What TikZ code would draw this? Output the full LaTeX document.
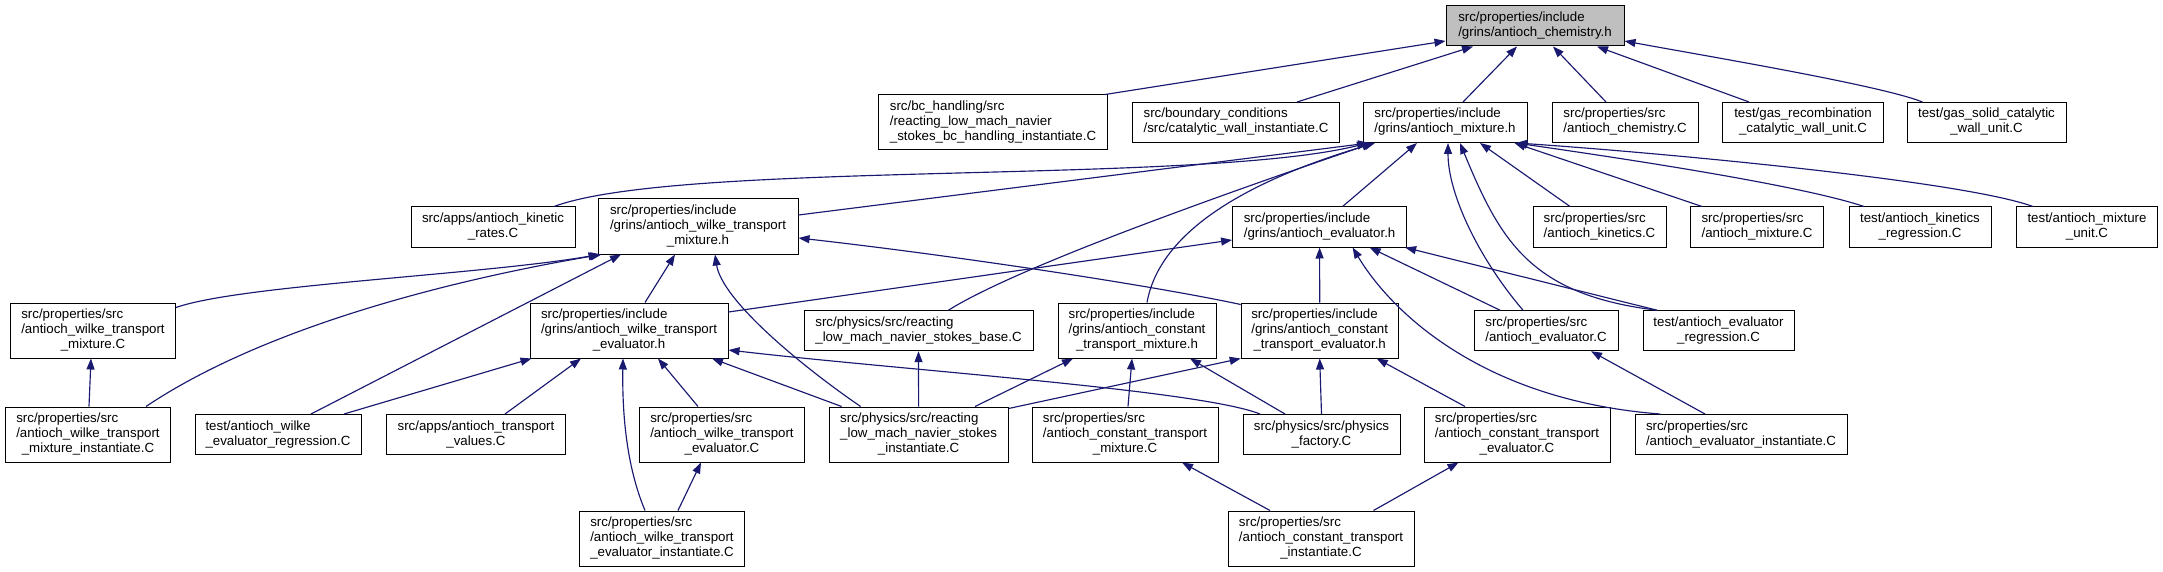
\documentclass[tikz,border=0pt]{standalone}
\usepackage{fontspec}
\setmainfont{Liberation Sans}
\usetikzlibrary{arrows.meta}
\definecolor{midnight}{RGB}{25,25,112}
\definecolor{rootgray}{RGB}{191,191,191}
\newcommand{\lbl}[2]{\begin{tabular}{@{}l@{}}#1\\\multicolumn{1}{@{}c@{}}{#2}\end{tabular}}
\tikzset{
  filebox/.style={draw=black, fill=white, line width=1pt, inner xsep=3pt, inner ysep=5pt,
    font=\fontsize{13.3}{15}\selectfont, anchor=center},
  rootbox/.style={filebox, fill=rootgray},
  dep/.style={draw=midnight, line width=1.15pt, -{Triangle[length=11pt,width=8pt]}},
}
\begin{document}
\begin{tikzpicture}[x=1pt,y=-1pt]
\useasboundingbox (0,0) rectangle (2163,572);
% level 1
\node[rootbox, minimum width=178pt] (root) at (1535,26) {\lbl{src/properties/include}{/grins/antioch\_chemistry.h}};
% level 2
\node[filebox, minimum width=229pt] (bch) at (993,122.5) {\lbl{src/bc\_handling/src\\/reacting\_low\_mach\_navier}{\_stokes\_bc\_handling\_instantiate.C}};
\node[filebox, minimum width=207pt] (bcc) at (1236,122.5) {\lbl{src/boundary\_conditions}{/src/catalytic\_wall\_instantiate.C}};
\node[filebox, minimum width=164pt] (mix) at (1445,122.5) {\lbl{src/properties/include}{/grins/antioch\_mixture.h}};
\node[filebox, minimum width=146pt] (chemC) at (1625,122.5) {\lbl{src/properties/src}{/antioch\_chemistry.C}};
\node[filebox, minimum width=161pt] (gasrec) at (1803,122.5) {\lbl{test/gas\_recombination}{\_catalytic\_wall\_unit.C}};
\node[filebox, minimum width=159pt] (gassol) at (1986.5,122.5) {\lbl{test/gas\_solid\_catalytic}{\_wall\_unit.C}};
% level 3
\node[filebox, minimum width=164pt] (kinrates) at (493,227) {\lbl{src/apps/antioch\_kinetic}{\_rates.C}};
\node[filebox, minimum width=200pt] (wmixh) at (698,226.5) {\lbl{src/properties/include\\/grins/antioch\_wilke\_transport}{\_mixture.h}};
\node[filebox, minimum width=174pt] (evalh) at (1319.6,227) {\lbl{src/properties/include}{/grins/antioch\_evaluator.h}};
\node[filebox, minimum width=133pt] (kinC) at (1599.5,227) {\lbl{src/properties/src}{/antioch\_kinetics.C}};
\node[filebox, minimum width=133pt] (mixC) at (1757,227) {\lbl{src/properties/src}{/antioch\_mixture.C}};
\node[filebox, minimum width=142pt] (kinreg) at (1920,227) {\lbl{test/antioch\_kinetics}{\_regression.C}};
\node[filebox, minimum width=141pt] (mixunit) at (2087,227) {\lbl{test/antioch\_mixture}{\_unit.C}};
% level 4
\node[filebox, minimum width=165pt] (wmixC) at (93,330.5) {\lbl{src/properties/src\\/antioch\_wilke\_transport}{\_mixture.C}};
\node[filebox, minimum width=198pt] (wevalh) at (629,330.5) {\lbl{src/properties/include\\/grins/antioch\_wilke\_transport}{\_evaluator.h}};
\node[filebox, minimum width=229pt] (base) at (918.5,330.7) {\lbl{src/physics/src/reacting}{\_low\_mach\_navier\_stokes\_base.C}};
\node[filebox, minimum width=158pt] (cmixh) at (1137,330.5) {\lbl{src/properties/include\\/grins/antioch\_constant}{\_transport\_mixture.h}};
\node[filebox, minimum width=157pt] (cevalh) at (1319.7,330.5) {\lbl{src/properties/include\\/grins/antioch\_constant}{\_transport\_evaluator.h}};
\node[filebox, minimum width=144pt] (evalC) at (1546,330.7) {\lbl{src/properties/src}{/antioch\_evaluator.C}};
\node[filebox, minimum width=151pt] (evalreg) at (1718.5,330.7) {\lbl{test/antioch\_evaluator}{\_regression.C}};
% level 5
\node[filebox, minimum width=165pt] (wmixinst) at (88,434.5) {\lbl{src/properties/src\\/antioch\_wilke\_transport}{\_mixture\_instantiate.C}};
\node[filebox, minimum width=166pt] (wevalreg) at (278,434.5) {\lbl{test/antioch\_wilke}{\_evaluator\_regression.C}};
\node[filebox, minimum width=179pt] (tvals) at (476,434.5) {\lbl{src/apps/antioch\_transport}{\_values.C}};
\node[filebox, minimum width=165pt] (wevalC) at (722,434.5) {\lbl{src/properties/src\\/antioch\_wilke\_transport}{\_evaluator.C}};
\node[filebox, minimum width=179pt] (rinst) at (918.6,434.5) {\lbl{src/physics/src/reacting\\\_low\_mach\_navier\_stokes}{\_instantiate.C}};
\node[filebox, minimum width=186pt] (cmixC) at (1125,434.5) {\lbl{src/properties/src\\/antioch\_constant\_transport}{\_mixture.C}};
\node[filebox, minimum width=157pt] (factory) at (1321.5,434.5) {\lbl{src/physics/src/physics}{\_factory.C}};
\node[filebox, minimum width=186pt] (cevalC) at (1517,434.5) {\lbl{src/properties/src\\/antioch\_constant\_transport}{\_evaluator.C}};
\node[filebox, minimum width=212pt] (evalinst) at (1741,434.5) {\lbl{src/properties/src}{/antioch\_evaluator\_instantiate.C}};
% level 6
\node[filebox, minimum width=165pt] (wevalinst) at (662,538.5) {\lbl{src/properties/src\\/antioch\_wilke\_transport}{\_evaluator\_instantiate.C}};
\node[filebox, minimum width=186pt] (cinst) at (1321,538.5) {\lbl{src/properties/src\\/antioch\_constant\_transport}{\_instantiate.C}};

% edges to root
\draw[dep] ([xshift=-3pt]bch.north east) -- ([yshift=-15pt]root.west);
\draw[dep] ([xshift=61pt]bcc.north) -- ([xshift=-62pt]root.south);
\draw[dep] ([xshift=18pt]mix.north) -- ([xshift=-18pt]root.south);
\draw[dep] ([xshift=-19pt]chemC.north) -- ([xshift=18pt]root.south);
\draw[dep] ([xshift=-54pt]gasrec.north) -- ([xshift=62pt]root.south);
\draw[dep] ([xshift=-64pt]gassol.north) .. controls (1880,85) and (1700,55) .. ([yshift=-15pt]root.east);
% edges to mix
\draw[dep] ([xshift=61pt]kinrates.north) .. controls (680,160) and (1200,185) .. ([xshift=-77pt]mix.south);
\draw[dep] ([yshift=11.5pt]wmixh.east) -- ([xshift=-76pt]mix.south);
\draw[dep] ([xshift=30pt]base.north) .. controls (1020,265) and (1250,185) .. ([xshift=-72pt]mix.south);
\draw[dep] ([xshift=10pt]cmixh.north) .. controls (1160,230) and (1250,180) .. ([xshift=-70pt]mix.south);
\draw[dep] ([xshift=23pt]evalh.north) -- ([xshift=-28pt]mix.south);
\draw[dep] ([xshift=-23pt]evalC.north) .. controls (1480,260) and (1448,195) .. ([xshift=3pt]mix.south);
\draw[dep] ([xshift=-61.5pt]evalreg.north) .. controls (1530,295) and (1500,240) .. ([xshift=15pt]mix.south);
\draw[dep] ([xshift=-29.5pt]kinC.north) -- ([xshift=35pt]mix.south);
\draw[dep] ([xshift=-55pt]mixC.north) -- ([xshift=-13pt]mix.south east);
\draw[dep] ([xshift=-56pt]kinreg.north) .. controls (1800,185) and (1620,158) .. ([xshift=-12pt]mix.south east);
\draw[dep] ([xshift=-54pt]mixunit.north) .. controls (1960,180) and (1650,152) .. ([xshift=-11pt]mix.south east);
% edges to wmixh
\draw[dep] ([yshift=-5pt]wmixC.north east) .. controls (240,285) and (480,275) .. ([xshift=2pt]wmixh.south west);
\draw[dep] ([xshift=58pt]wmixinst.north) .. controls (260,330) and (440,282) .. ([xshift=4pt]wmixh.south west);
\draw[dep] ([xshift=33pt]wevalreg.north) -- ([xshift=-77pt]wmixh.south);
\draw[dep] ([xshift=16pt]wevalh.north) -- ([xshift=-23pt]wmixh.south);
\draw[dep] ([xshift=-58pt]rinst.north) .. controls (800,365) and (722,300) .. ([xshift=17pt]wmixh.south);
\draw[dep] ([yshift=-2pt]cevalh.north west) .. controls (1150,285) and (950,255) .. ([yshift=-11.5pt]wmixh.east);
% edges to wevalh
\draw[dep] ([yshift=18.5pt]wevalh.east) -- ([yshift=-13pt]evalh.west);
\draw[dep] ([xshift=66pt]wevalreg.north) -- ([xshift=2pt]wevalh.south west);
\draw[dep] ([xshift=29pt]tvals.north) -- ([xshift=-48pt]wevalh.south);
\draw[dep] ([xshift=-17pt]wevalinst.north) .. controls (628,470) and (622,420) .. ([xshift=-6pt]wevalh.south);
\draw[dep] ([xshift=-24pt]wevalC.north) -- ([xshift=29pt]wevalh.south);
\draw[dep] ([xshift=-77pt]rinst.north) -- ([xshift=83pt]wevalh.south);
\draw[dep] ([xshift=-61.5pt]factory.north) .. controls (1200,390) and (900,370) .. ([yshift=-19.5pt]wevalh.east);
% other
\draw[dep] ([xshift=16pt]wevalinst.north) -- ([xshift=-21pt]wevalC.south);
\draw[dep] ([xshift=1pt]wmixinst.north) -- ([xshift=-2pt]wmixC.south);
\draw[dep] (rinst.north) -- (base.south);
% edges to evalh
\draw[dep] (cevalh.north) -- (evalh.south);
\draw[dep] ([xshift=-46pt]evalC.north) -- ([xshift=50pt]evalh.south);
\draw[dep] ([xshift=-61.5pt]evalreg.north) -- ([xshift=-2pt]evalh.south east);
\draw[dep] ([xshift=-81pt]evalinst.north) .. controls (1480,400) and (1390,310) .. ([xshift=33pt]evalh.south);
\draw[dep] ([xshift=-36pt]evalinst.north) -- ([xshift=45pt]evalC.south);
% edges to cmixh
\draw[dep] ([xshift=3pt]cmixC.north) -- ([xshift=-5pt]cmixh.south);
\draw[dep] ([xshift=-36.5pt]factory.north) -- ([xshift=53pt]cmixh.south);
\draw[dep] ([xshift=56.4pt]rinst.north) -- ([xshift=-64pt]cmixh.south);
% edges to cevalh
\draw[dep] ([yshift=-2pt]rinst.north east) -- (cevalh.south west);
\draw[dep] (factory.north) -- (cevalh.south);
\draw[dep] ([xshift=-52pt]cevalC.north) -- ([xshift=57pt]cevalh.south);
% edges from cinst
\draw[dep] ([xshift=-51pt]cinst.north) -- ([xshift=57pt]cmixC.south);
\draw[dep] ([xshift=52.5pt]cinst.north) -- ([xshift=-58.5pt]cevalC.south);
\end{tikzpicture}
\end{document}
